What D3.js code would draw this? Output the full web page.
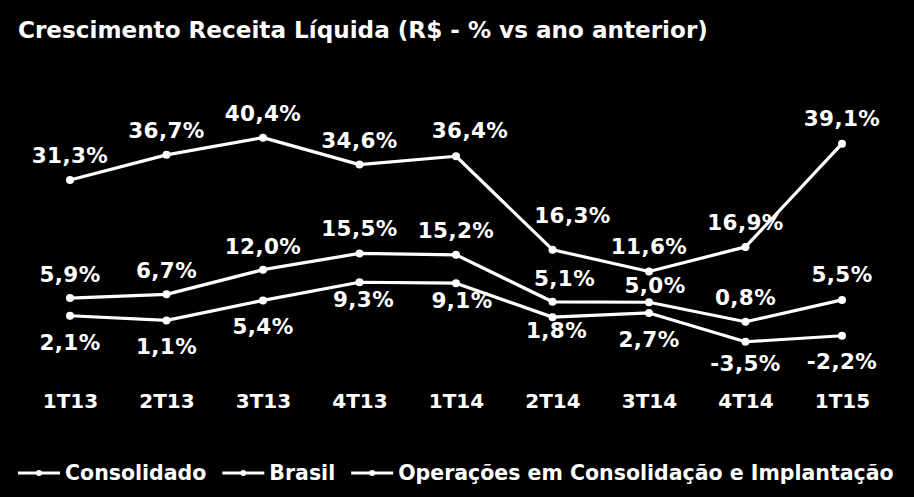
<!DOCTYPE html>
<html>
<head>
<meta charset="utf-8">
<script src="https://cdn.jsdelivr.net/npm/d3@7"></script>
<style>
  html, body { margin: 0; padding: 0; background: #000; }
  svg { display: block; }
  text { font-family: "DejaVu Sans", Verdana, sans-serif; font-weight: bold; fill: #fff; }
</style>
</head>
<body>
<svg id="chart" width="914" height="497"></svg>
<script>
// ---- data ----
const title = "Crescimento Receita Líquida (R$ - % vs ano anterior)";
const categories = ["1T13", "2T13", "3T13", "4T13", "1T14", "2T14", "3T14", "4T14", "1T15"];
const consolidado = [5.9, 6.7, 12.0, 15.5, 15.2, 5.1, 5.0, 0.8, 5.5];
const brasil = [2.1, 1.1, 5.4, 9.3, 9.1, 1.8, 2.7, -3.5, -2.2];
const operacoes = [31.3, 36.7, 40.4, 34.6, 36.4, 16.3, 11.6, 16.9, 39.1];
const seriesNames = ["Consolidado", "Brasil", "Operações em Consolidação e Implantação"];

// ---- label placement tweaks (layout, not data) ----
const labelDx = {
  "Consolidado": [0, 0, 0, 0, 0, 12, 6, 0, 0],
  "Brasil": [0, 0, 0, 4, 6, 4, 0, 0, 0],
  "Operações em Consolidação e Implantação": [0, 0, 0, 0, 14, 20, 0, 0, 0]
};
const labelDy = {
  "Consolidado": [-16, -16, -16, -17, -17, -16, -9, -17, -18],
  "Brasil": [34, 34, 34, 25, 25, 21, 34, 29, 33],
  "Operações em Consolidação e Implantação": [-17, -17, -17, -17, -18, -27, -18, -17, -18]
};

const fmt = v => d3.format(".1f")(v).replace(".", ",").replace("−", "-") + "%";

const svg = d3.select("#chart");
const W = 914, H = 497;
svg.append("rect").attr("width", W).attr("height", H).attr("fill", "#000");

const x = d3.scalePoint().domain(categories).range([70, 842]);
const y = d3.scaleLinear().domain([-5, 45]).range([348.75, 116.25]);

// title
const t = svg.append("text").attr("x", 18).attr("y", 38).attr("font-size", 21).text(title);
const tw = t.node().getComputedTextLength();
t.attr("font-size", 21 * 690 / tw);

const series = [
  { name: seriesNames[0], values: consolidado },
  { name: seriesNames[1], values: brasil },
  { name: seriesNames[2], values: operacoes }
];

const line = d3.line().x((d, i) => x(categories[i])).y(d => y(d));

const g = svg.append("g");
series.forEach(s => {
  const sg = g.append("g");
  sg.append("path").datum(s.values)
    .attr("d", line).attr("fill", "none").attr("stroke", "#fff")
    .attr("stroke-width", 3.2).attr("stroke-linejoin", "round");
  sg.selectAll("circle").data(s.values).join("circle")
    .attr("cx", (d, i) => x(categories[i])).attr("cy", d => y(d))
    .attr("r", 4).attr("fill", "#fff");
  sg.selectAll("text").data(s.values).join("text")
    .attr("x", (d, i) => x(categories[i]) + labelDx[s.name][i])
    .attr("y", (d, i) => y(d) + labelDy[s.name][i])
    .attr("text-anchor", "middle").attr("font-size", 21.5)
    .attr("letter-spacing", 0.4)
    .text(d => fmt(d));
});

// category axis labels
const xAxis = d3.axisBottom(x).tickSize(0).tickPadding(0);
const ax = svg.append("g").attr("transform", "translate(0,393)").call(xAxis);
ax.select(".domain").remove();
ax.selectAll("text").attr("font-size", 20).attr("dy", 0).attr("y", 15)
  .style("fill", "#fff").attr("font-family", "DejaVu Sans").attr("font-weight", "bold");

// legend
const legend = svg.append("g").attr("transform", "translate(0,473)");
let lx = 18;
seriesNames.forEach(n => {
  const it = legend.append("g").attr("transform", `translate(${lx},0)`);
  it.append("line").attr("x1", 0).attr("x2", 42).attr("y1", 0).attr("y2", 0)
    .attr("stroke", "#fff").attr("stroke-width", 3);
  it.append("circle").attr("cx", 21).attr("cy", 0).attr("r", 3).attr("fill", "#fff");
  const tx = it.append("text").attr("x", 47).attr("y", 7).attr("font-size", 20.5).text(n);
  lx += 47 + tx.node().getComputedTextLength() + 16;
});
</script>
</body>
</html>
